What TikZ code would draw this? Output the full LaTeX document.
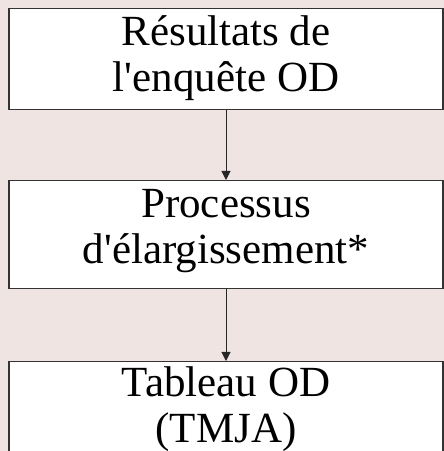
\documentclass[tikz,border=0pt]{standalone}
\usepackage{fontspec}
\setmainfont{Liberation Serif}
\usetikzlibrary{arrows.meta}
\definecolor{fond}{RGB}{240,228,226}

\begin{document}
\begin{tikzpicture}[x=1pt, y=1pt,
        etape/.style={draw=black!80, line width=1.3pt, fill=white, anchor=north, inner sep=0pt,
            minimum width=434pt, align=center, text height=83pt, font=\fontsize{43}{46}\selectfont}]
            \useasboundingbox[fill=fond] (0, 0) rectangle (444, 451);
            \clip (0, 0) rectangle (444, 451);

            \node[etape, text depth=18pt] (res) at (226, 443) {Résultats de\\l\textquotesingle enquête OD};
            \node[etape, text depth=25pt] (proc) at (226, 271) {Processus\\d\textquotesingle élargissement*};
            \node[etape, text height=81pt, text depth=28pt] (tab) at (226, 90) {Tableau OD\\(TMJA)};

            \draw[-{Triangle[length=9pt, width=9pt]}, line width=1pt, black!85] (res) -- (proc);
            \draw[-{Triangle[length=9pt, width=9pt]}, line width=1pt, black!85] (proc) -- (tab);
        \end{tikzpicture}
\end{document}
